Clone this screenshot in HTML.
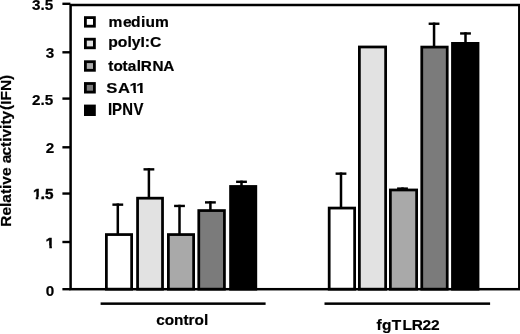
<!DOCTYPE html><html><head><meta charset="utf-8"><title>chart</title>
<style>html,body{margin:0;padding:0;background:#fff}svg{display:block;filter:grayscale(1) blur(0.4px)}text{font-family:"Liberation Sans",Arial,sans-serif;font-weight:bold;font-size:14.9px;fill:#000;stroke:#000;stroke-width:0.2px}</style></head><body>
<svg width="520" height="334" viewBox="0 0 520 334">
<rect x="0" y="0" width="520" height="334" fill="#fff"/>
<rect x="116.55" y="203.45" width="2.5" height="30.75" fill="#000"/><rect x="112.40" y="203.45" width="10.8" height="2.4" fill="#000"/><rect x="106.38" y="234.57" width="25.25" height="54.62" fill="#ffffff" stroke="#000" stroke-width="2.75"/>
<rect x="147.65" y="168.15" width="2.5" height="29.65" fill="#000"/><rect x="143.50" y="168.15" width="10.8" height="2.4" fill="#000"/><rect x="137.57" y="198.18" width="24.95" height="91.02" fill="#e2e2e2" stroke="#000" stroke-width="2.75"/>
<rect x="178.25" y="204.75" width="2.5" height="29.45" fill="#000"/><rect x="174.10" y="204.75" width="10.8" height="2.4" fill="#000"/><rect x="168.38" y="234.57" width="25.25" height="54.62" fill="#a9a9a9" stroke="#000" stroke-width="2.75"/>
<rect x="209.15" y="201.20" width="2.5" height="9.00" fill="#000"/><rect x="205.00" y="201.20" width="10.8" height="2.4" fill="#000"/><rect x="198.78" y="210.57" width="25.65" height="78.62" fill="#7b7b7b" stroke="#000" stroke-width="2.75"/>
<rect x="240.25" y="180.60" width="2.5" height="5.50" fill="#000"/><rect x="236.10" y="180.60" width="10.8" height="2.4" fill="#000"/><rect x="230.57" y="186.47" width="25.25" height="102.72" fill="#000000" stroke="#000" stroke-width="2.75"/>
<rect x="339.75" y="172.45" width="2.5" height="35.25" fill="#000"/><rect x="335.60" y="172.45" width="10.8" height="2.4" fill="#000"/><rect x="329.18" y="208.07" width="25.45" height="81.12" fill="#ffffff" stroke="#000" stroke-width="2.75"/>
<rect x="359.38" y="46.98" width="26.25" height="242.22" fill="#e2e2e2" stroke="#000" stroke-width="2.75"/>
<rect x="401.25" y="187.40" width="2.5" height="2.20" fill="#000"/><rect x="397.10" y="187.40" width="10.8" height="2.4" fill="#000"/><rect x="390.38" y="189.97" width="26.25" height="99.22" fill="#a9a9a9" stroke="#000" stroke-width="2.75"/>
<rect x="432.80" y="22.55" width="2.5" height="24.15" fill="#000"/><rect x="428.65" y="22.55" width="10.8" height="2.4" fill="#000"/><rect x="421.77" y="47.08" width="25.45" height="242.12" fill="#7b7b7b" stroke="#000" stroke-width="2.75"/>
<rect x="464.25" y="32.25" width="2.5" height="10.75" fill="#000"/><rect x="460.10" y="32.25" width="10.8" height="2.4" fill="#000"/><rect x="452.48" y="43.38" width="25.55" height="245.82" fill="#000000" stroke="#000" stroke-width="2.75"/>
<rect x="70.6" y="5.0" width="448.7" height="284.2" fill="none" stroke="#000" stroke-width="2.5"/>
<rect x="62.4" y="2.60" width="8" height="2.4" fill="#000"/>
<text transform="translate(53.30,10.05) scale(1.025,1)" text-anchor="end">3.5</text>
<rect x="62.4" y="51.10" width="8" height="2.4" fill="#000"/>
<text transform="translate(54.30,58.15) scale(1.025,1)" text-anchor="end">3</text>
<rect x="62.4" y="97.40" width="8" height="2.4" fill="#000"/>
<text transform="translate(53.30,105.15) scale(1.025,1)" text-anchor="end">2.5</text>
<rect x="62.4" y="146.10" width="8" height="2.4" fill="#000"/>
<text transform="translate(54.30,153.15) scale(1.025,1)" text-anchor="end">2</text>
<rect x="62.4" y="192.35" width="8" height="2.4" fill="#000"/>
<g transform="translate(52.70,199.20) scale(1.025,1)"><text text-anchor="end" dx="0.75 -0.75" style="stroke-width:0.4px">1.5</text><rect x="-19.96" y="-2.38" width="3.43" height="4.08" fill="#fff"/><rect x="-14.03" y="-2.38" width="2.56" height="4.08" fill="#fff"/></g>
<rect x="62.4" y="240.80" width="8" height="2.4" fill="#000"/>
<g transform="translate(54.30,247.85) scale(1.025,1)"><text text-anchor="end" style="stroke-width:0.55px">1</text><rect x="-8.28" y="-2.38" width="3.43" height="4.08" fill="#fff"/><rect x="-2.35" y="-2.38" width="3.08" height="4.08" fill="#fff"/></g>
<rect x="62.4" y="288.00" width="8" height="2.4" fill="#000"/>
<text transform="translate(54.30,296.05) scale(1.025,1)" text-anchor="end">0</text>
<rect x="100.6" y="302.4" width="165.0" height="2.5" fill="#000"/>
<rect x="324.5" y="302.4" width="165.6" height="2.5" fill="#000"/>
<text transform="translate(156.2,324.8) scale(1.03,1)">control</text>
<text transform="translate(376.4,330.4) scale(1.04,1.03)" x="0 5.29 14.7 25.0 34.0 44.4 52.4">fgTLR22</text>
<rect x="85.40" y="17.60" width="9.0" height="8.6" fill="#ffffff" stroke="#000" stroke-width="2.8"/>
<rect x="85.40" y="39.20" width="9.0" height="8.6" fill="#e2e2e2" stroke="#000" stroke-width="2.8"/>
<rect x="85.40" y="61.70" width="9.0" height="8.6" fill="#a9a9a9" stroke="#000" stroke-width="2.8"/>
<rect x="85.40" y="83.50" width="9.0" height="8.6" fill="#7b7b7b" stroke="#000" stroke-width="2.8"/>
<rect x="85.40" y="106.00" width="9.0" height="8.6" fill="#000000" stroke="#000" stroke-width="2.8"/>
<text transform="translate(108.4,26.85) scale(1.045,1)" x="0.00 13.90 21.70 31.30 35.60 44.60">medium</text>
<text transform="translate(108.2,47.1) scale(1.055,1)">polyI:C</text>
<text transform="translate(108.2,71.15) scale(1.03,1.02)" x="0.00 5.06 13.95 19.10 27.83 31.50 42.96 53.50">totalRNA</text>
<g transform="translate(106.35,93.3) scale(1.12,1.02)"><text x="0.00 10.50 20.60 26.60">SA11</text><rect x="21.00" y="-2.38" width="3.43" height="4.08" fill="#fff"/><rect x="26.93" y="-2.38" width="1.52" height="4.08" fill="#fff"/><rect x="26.60" y="-2.38" width="3.43" height="4.08" fill="#fff"/><rect x="32.53" y="-2.38" width="3.31" height="4.08" fill="#fff"/></g>
<text transform="translate(108.0,115.4) scale(1,1.05)" x="0.00 4.00 14.25 25.50">IPNV</text>
<text transform="translate(11.1,226.7) rotate(-90) scale(1.037,1)" dx="0 0 0 0 0 0 0 0 0 0 -0.9 0 0 0 0 0 0 0.9">Relative activity(IFN)</text>
</svg></body></html>
